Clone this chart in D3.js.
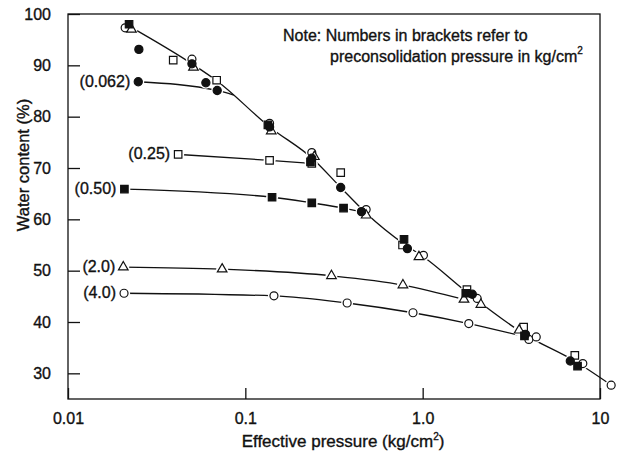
<!DOCTYPE html>
<html>
    <head>
        <title>Water content vs effective pressure</title>
        <script src="https://cdn.jsdelivr.net/npm/d3@7/dist/d3.min.js"></script>
        <style type="text/css">
            html, body {
                margin: 0;
                background: #fff;
            }
            text {
                font-family: "Liberation Sans", Arial, sans-serif;
                fill: #111;
                stroke: #111;
                stroke-width: 0.35px;
            }
        </style>
    </head>
    <body>
        <div id="chart"></div>
        <script>
            // ---------- data: [effective pressure kg/cm2, water content %]
            var openCircles = [
                [0.0210, 97.3], [0.050, 91.2], [0.137, 78.7], [0.237, 73.0], [0.48, 61.9],
                [1.01, 53.0], [2.03, 44.6], [3.97, 36.6], [4.37, 37.1], [8.0, 31.9], [11.56, 27.7],
                [0.0207, 45.6], [0.145, 45.1], [0.375, 43.7], [0.882, 41.8], [1.82, 39.7]
            ];
            var filledCircles = [
                [0.0251, 93.1], [0.050, 90.3], [0.0249, 86.8], [0.0599, 86.6], [0.0694, 85.1],
                [0.137, 78.0], [0.237, 71.9], [0.345, 66.2], [0.452, 61.5], [0.82, 54.3],
                [1.905, 45.4], [3.8, 37.6], [6.8, 32.4]
            ];
            var openSquares = [
                [0.0392, 91.0], [0.0689, 87.1], [0.0418, 72.65], [0.137, 71.5], [0.237, 70.9],
                [0.345, 69.1], [0.77, 55.0], [1.777, 46.3], [3.71, 39.0], [7.21, 33.5]
            ];
            var filledSquares = [
                [0.0221, 98.0], [0.134, 78.4], [0.233, 71.2], [0.0208, 65.9], [0.1415, 64.3],
                [0.237, 63.2], [0.358, 62.2], [0.785, 56.1], [1.75, 45.6], [3.75, 37.3], [7.47, 31.4]
            ];
            var triangles = [
                [0.0228, 97.0], [0.051, 89.6], [0.14, 77.2], [0.245, 72.2], [0.48, 60.8],
                [0.953, 52.7], [1.71, 44.4], [2.13, 43.4], [3.5, 38.4],
                [0.0205, 50.7], [0.074, 50.3], [0.306, 49.0], [0.774, 47.2]
            ];

            // ---------- curves
            var virginLine = [
                [0.0225, 97.5], [0.05, 90.3], [0.069, 87.0], [0.137, 78.0], [0.24, 71.8],
                [0.345, 66.2], [0.48, 61.2], [0.8, 55.0], [1.0, 52.8], [1.85, 45.3],
                [3.8, 37.5], [7.2, 32.4], [11.56, 27.7]
            ];
            var branch062 = [[0.0249, 86.8], [0.0694, 85.1], [0.086, 84.2]];
            var branch025 = [[0.0418, 72.65], [0.137, 71.5], [0.237, 70.9]];
            var branch050 = [[0.0208, 65.9], [0.1415, 64.3], [0.237, 63.2], [0.358, 62.2], [0.45, 61.5]];
            var branch20 = [[0.0205, 50.7], [0.074, 50.3], [0.306, 49.0], [0.774, 47.2], [1.71, 44.4]];
            var branch40 = [[0.0207, 45.6], [0.145, 45.1], [0.375, 43.7], [0.882, 41.8], [1.82, 39.7], [3.9, 37.0]];
            var branches = [branch062, branch025, branch050, branch20, branch40];

            var branchLabels = ["(0.062)", "(0.25)", "(0.50)", "(2.0)", "(4.0)"];
            var xTicks = [0.01, 0.1, 1, 10];
            var xTickLabels = ["0.01", "0.1", "1.0", "10"];
            var yTicks = [30, 40, 50, 60, 70, 80, 90, 100];

            // ----------
            var width = 625, height = 457;
            var plotLeft = 68, plotRight = 600, plotTop = 14, plotBottom = 399;

            var svg = d3.select("#chart").append("svg")
                .attr("width", width)
                .attr("height", height);

            var x = d3.scaleLog().domain([0.01, 10]).range([plotLeft, plotRight]);
            var y = d3.scaleLinear().domain([25, 100]).range([plotBottom, plotTop]);

            // frame
            svg.append("rect")
                .attr("x", plotLeft).attr("y", plotTop)
                .attr("width", plotRight - plotLeft).attr("height", plotBottom - plotTop)
                .style("fill", "none").style("stroke", "#111").style("stroke-width", 1.3);

            // axes with inward ticks
            svg.append("g")
                .attr("transform", "translate(0," + plotBottom + ")")
                .call(d3.axisBottom(x).tickValues(xTicks).tickSizeInner(-11).tickSizeOuter(0)
                    .tickPadding(14).tickFormat(function(d, i) { return xTickLabels[i]; }));
            svg.append("g")
                .attr("transform", "translate(" + plotLeft + ",0)")
                .call(d3.axisLeft(y).tickValues(yTicks).tickSizeInner(-12).tickSizeOuter(0)
                    .tickPadding(17));
            svg.selectAll(".domain").remove();
            svg.selectAll(".tick line").style("stroke", "#111").style("stroke-width", 1.3);
            svg.selectAll(".tick text")
                .style("font-size", "16px")
                .style("font-family", "'Liberation Sans', Arial, sans-serif")
                .style("fill", "#111");

            // axis titles
            svg.append("text")
                .attr("x", 343).attr("y", 447)
                .attr("text-anchor", "middle")
                .style("font-size", "17px")
                .html("Effective pressure (kg/cm<tspan dy='-7' font-size='10px'>2</tspan><tspan dy='7'>)</tspan>");
            svg.append("text")
                .attr("transform", "translate(29,165) rotate(-90)")
                .attr("text-anchor", "middle")
                .style("font-size", "16.5px")
                .text("Water content (%)");

            // note
            svg.append("text")
                .attr("x", 283).attr("y", 41)
                .style("font-size", "16px")
                .text("Note: Numbers in brackets refer to");
            svg.append("text")
                .attr("x", 330).attr("y", 62)
                .style("font-size", "16px")
                .html("preconsolidation pressure in kg/cm<tspan dy='-8' font-size='10px'>2</tspan>");

            // ---------- lines
            var line = d3.line()
                .x(function(d) { return x(d[0]); })
                .y(function(d) { return y(d[1]); })
                .curve(d3.curveMonotoneX);

            svg.append("path").datum(virginLine)
                .attr("d", line)
                .style("fill", "none").style("stroke", "#111").style("stroke-width", 1.3);

            svg.selectAll(".branch").data(branches).enter().append("path")
                .attr("class", "branch")
                .attr("d", line)
                .style("fill", "none").style("stroke", "#111").style("stroke-width", 1.3);

            // ---------- markers
            var groups = [
                { data: openCircles, type: d3.symbolCircle, size: 50, fill: "#fff" },
                { data: openSquares, type: d3.symbolSquare, size: 56, fill: "#fff" },
                { data: triangles, type: d3.symbolTriangle, size: 40, fill: "#fff" },
                { data: filledSquares, type: d3.symbolSquare, size: 56, fill: "#111" },
                { data: filledCircles, type: d3.symbolCircle, size: 52, fill: "#111" }
            ];

            // white halo to break the lines at each marker
            groups.forEach(function(g) {
                svg.append("g").selectAll("circle").data(g.data).enter().append("circle")
                    .attr("cx", function(d) { return x(d[0]); })
                    .attr("cy", function(d) { return y(d[1]); })
                    .attr("r", 6)
                    .style("fill", "#fff");
            });

            groups.forEach(function(g) {
                svg.append("g").selectAll("path").data(g.data).enter().append("path")
                    .attr("transform", function(d) { return "translate(" + x(d[0]) + "," + y(d[1]) + ")"; })
                    .attr("d", d3.symbol().type(g.type).size(g.size))
                    .style("fill", g.fill)
                    .style("stroke", "#111")
                    .style("stroke-width", 1.2);
            });

            // ---------- branch labels, placed left of the first point
            svg.selectAll(".blabel").data(branches).enter().append("text")
                .attr("class", "blabel")
                .attr("x", function(d) { return x(d[0][0]) - 8; })
                .attr("y", function(d) { return y(d[0][1]) + 5; })
                .attr("text-anchor", "end")
                .style("font-size", "16px")
                .text(function(d, i) { return branchLabels[i]; });
        </script>
    </body>
</html>
